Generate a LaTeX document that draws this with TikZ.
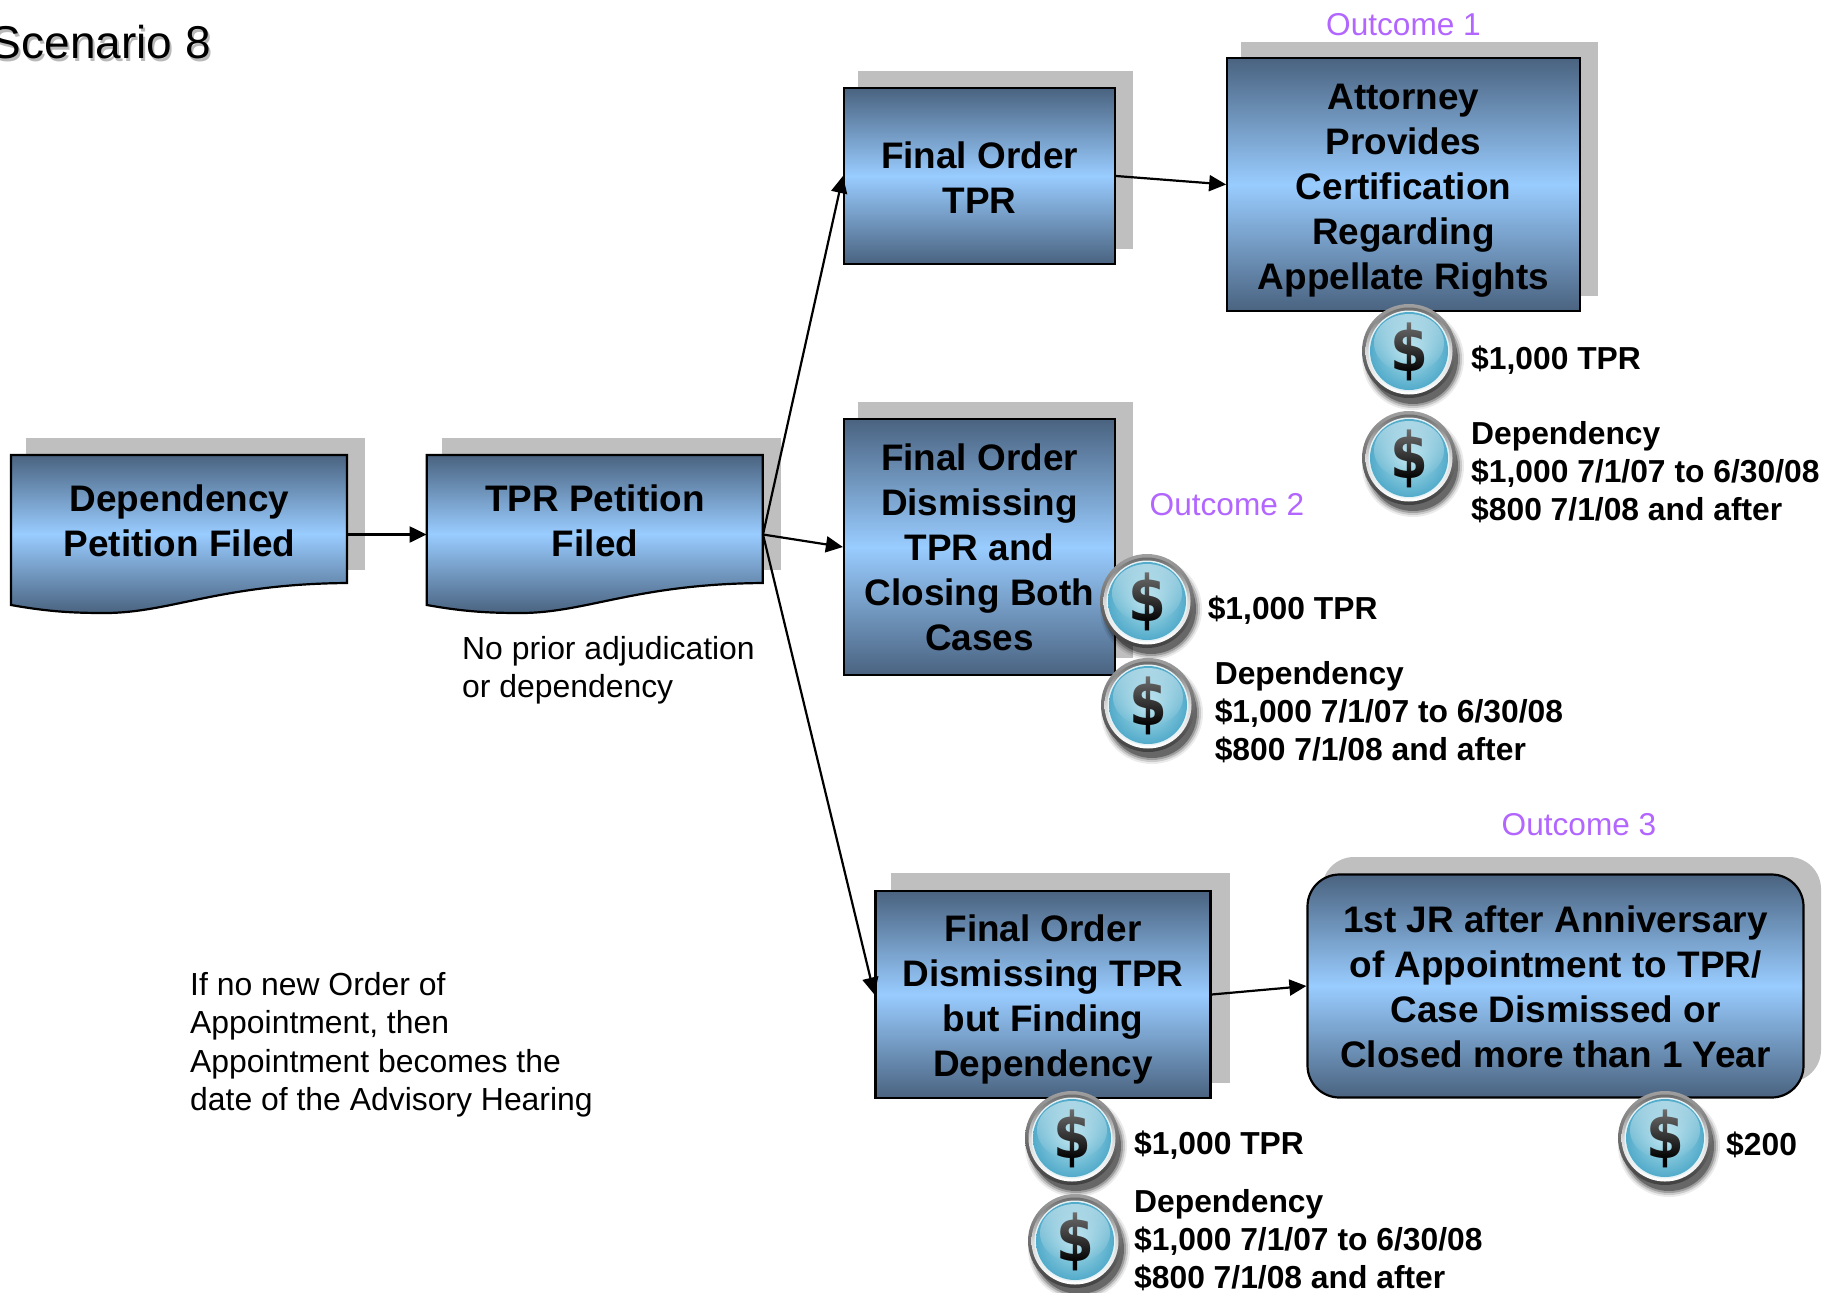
\documentclass[tikz,border=0pt]{standalone}
\usepackage{fontspec}
\setmainfont{Liberation Sans}
\newfontfamily\coinfont{DejaVu Sans}
\usetikzlibrary{arrows.meta,fadings}
\definecolor{boxdark}{HTML}{4A6380}
\definecolor{boxlight}{HTML}{99CCFF}
\definecolor{boxshadow}{HTML}{BFBFBF}
\definecolor{outcomecol}{HTML}{B266FF}
\definecolor{coinmid}{HTML}{B0DFEC}
\definecolor{coinedge}{HTML}{52ABCA}
\tikzfading[name=south,top color=transparent!0,bottom color=transparent!100]
\tikzset{
  boxfill/.style={top color=boxdark,bottom color=boxdark,middle color=boxlight,draw=black,line width=2.2pt},
  flowbox/.style={boxfill,rectangle,inner sep=0pt},
  boxtext/.style={inner sep=0pt,align=center,font=\fontsize{36.9}{45}\selectfont\bfseries},
  anchorbox/.style={inner sep=0pt,rectangle},
  shadowbox/.style={fill=boxshadow,draw=none},
  link/.style={draw=black,line width=2.2pt,-{Triangle[length=17pt,width=16pt]}},
  costlabel/.style={inner sep=0pt,anchor=west,align=left,font=\fontsize{31.8}{38}\selectfont\bfseries},
  notelabel/.style={inner sep=0pt,anchor=west,align=left,font=\fontsize{31.9}{38.4}\selectfont},
  outcomelabel/.style={inner sep=0pt,text=outcomecol,font=\fontsize{31.6}{38}\selectfont},
  coin/.pic={
    \foreach \r/\o in {51/.08,49/.14,47/.22,45/.35}{
      \fill[black,opacity=\o] (4,8) circle[radius=\r pt];
    }
    \shade[top color=gray!75,bottom color=black!75] (0,0) circle[radius=47pt];
    \shade[top color=gray!85!black,bottom color=white,middle color=gray!30] (0,0) circle[radius=43.5pt];
    \fill[white!85!coinedge] (0,0) circle[radius=40.5pt];
    \shade[inner color=coinmid,outer color=coinedge] (0,0) circle[radius=39pt];
    \node[inner sep=0pt,text=black,xscale=.85,transform shape] (-sign) at (0,1) {\fontsize{64}{64}\coinfont\bfseries\$};
    \fill[white,fill opacity=.5,path fading=south] (0,-8) ellipse[x radius=35pt,y radius=29pt];
  },
}
\begin{document}
\begin{tikzpicture}[x=1pt,y=-1pt]
\useasboundingbox (0,0) rectangle (1826,1293);
% title
\node[inner sep=0pt,anchor=east,text=gray!55,font=\fontsize{46}{50}\selectfont] (titleshadow) at (213,45) {Scenario 8};
\node[inner sep=0pt,anchor=east,font=\fontsize{46}{50}\selectfont] (title) at (211,42) {Scenario 8};
% shadows
\fill[shadowbox] (26,438) rectangle (365,570);
\fill[shadowbox] (442,438) rectangle (781,570);
\fill[shadowbox] (858,71) rectangle (1133,249);
\fill[shadowbox] (1241,42) rectangle (1598,296);
\fill[shadowbox] (858,402) rectangle (1133,658);
\fill[shadowbox] (891,873) rectangle (1230,1083);
\fill[shadowbox,rounded corners=32pt] (1322,857) rectangle (1821,1082);
% document shapes
\path[boxfill] (11,455) -- (347,455) -- (347,583) .. controls (220,584) and (170,613) .. (105,613) .. controls (75,613) and (50,612) .. (11,605) -- cycle;
\path[boxfill] (426.8,455) -- (762.8,455) -- (762.8,583) .. controls (635.8,584) and (585.8,613) .. (520.8,613) .. controls (490.8,613) and (465.8,612) .. (426.8,605) -- cycle;
\node[anchorbox,minimum width=336pt,minimum height=158pt] (dep) at (179,534.5) {};
\node[anchorbox,minimum width=336pt,minimum height=158pt] (tprpet) at (594.8,534.5) {};
\node[boxtext] (deptext) at (179.5,520.5) {Dependency\\Petition Filed};
\node[boxtext] (tprtext) at (595,520.5) {TPR Petition\\Filed};
% boxes
\node[flowbox,minimum width=271pt,minimum height=175.5pt] (ftpr) at (979.5,176) {};
\node[flowbox,minimum width=352.5pt,minimum height=252.5pt] (atty) at (1403.5,184.5) {};
\node[flowbox,minimum width=271pt,minimum height=255.5pt] (fdis) at (979.5,547) {};
\node[flowbox,minimum width=335pt,minimum height=206.5pt] (fdep) at (1043,994.5) {};
\node[flowbox,rounded corners=32pt,minimum width=496pt,minimum height=223pt] (jr) at (1555.5,986) {};
\node[boxtext] (ftprtext) at (979.5,177.5) {Final Order\\TPR};
\node[boxtext] (attytext) at (1403.5,191) {Attorney\\Provides\\Certification\\Regarding\\Appellate Rights};
\node[boxtext] (fdistext) at (979.5,547.5) {Final Order\\Dismissing\\TPR and\\Closing Both\\Cases};
\node[boxtext] (fdeptext) at (1043,999) {Final Order\\Dismissing TPR\\but Finding\\Dependency};
\node[boxtext] (jrtext) at (1555.5,987) {1st JR after Anniversary\\of Appointment to TPR/\\Case Dismissed or\\Closed more than 1 Year};
% connectors
\draw[link] (dep.east) -- (tprpet.west);
\draw[link] (tprpet.east) -- (ftpr.west);
\draw[link] (tprpet.east) -- (fdis.west);
\draw[link] (tprpet.east) -- (fdep.west);
\draw[link] (ftpr.east) -- (atty.west);
\draw[link] (fdep.east) -- (jr.west);
% coins
\pic (c1) at (1409,351) {coin};
\pic (c2) at (1409,458) {coin};
\pic (c3) at (1147,601) {coin};
\pic (c4) at (1148,705) {coin};
\pic (c5) at (1072,1138) {coin};
\pic (c6) at (1075,1241) {coin};
\pic (c7) at (1665,1138) {coin};
% cost labels
\node[costlabel] (l1) at (1471,360) {\$1,000 TPR};
\node[costlabel] (l2) at (1471,472) {Dependency\\\$1,000 7/1/07 to 6/30/08\\\$800 7/1/08 and after};
\node[costlabel] (l3) at (1207.6,610) {\$1,000 TPR};
\node[costlabel] (l4) at (1214.6,712.5) {Dependency\\\$1,000 7/1/07 to 6/30/08\\\$800 7/1/08 and after};
\node[costlabel] (l5) at (1134,1145.5) {\$1,000 TPR};
\node[costlabel] (l6) at (1134,1240) {Dependency\\\$1,000 7/1/07 to 6/30/08\\\$800 7/1/08 and after};
\node[costlabel] (l7) at (1726,1144.5) {\$200};
% notes
\node[notelabel] (n1) at (462,670) {No prior adjudication\\or dependency};
\node[notelabel] (n2) at (190,1044.7) {If no new Order of\\Appointment, then\\Appointment becomes the\\date of the Advisory Hearing};
% outcomes
\node[outcomelabel] (o1) at (1403.5,24.5) {Outcome 1};
\node[outcomelabel] (o2) at (1227,504.5) {Outcome 2};
\node[outcomelabel] (o3) at (1579,824.5) {Outcome 3};
\end{tikzpicture}
\end{document}
